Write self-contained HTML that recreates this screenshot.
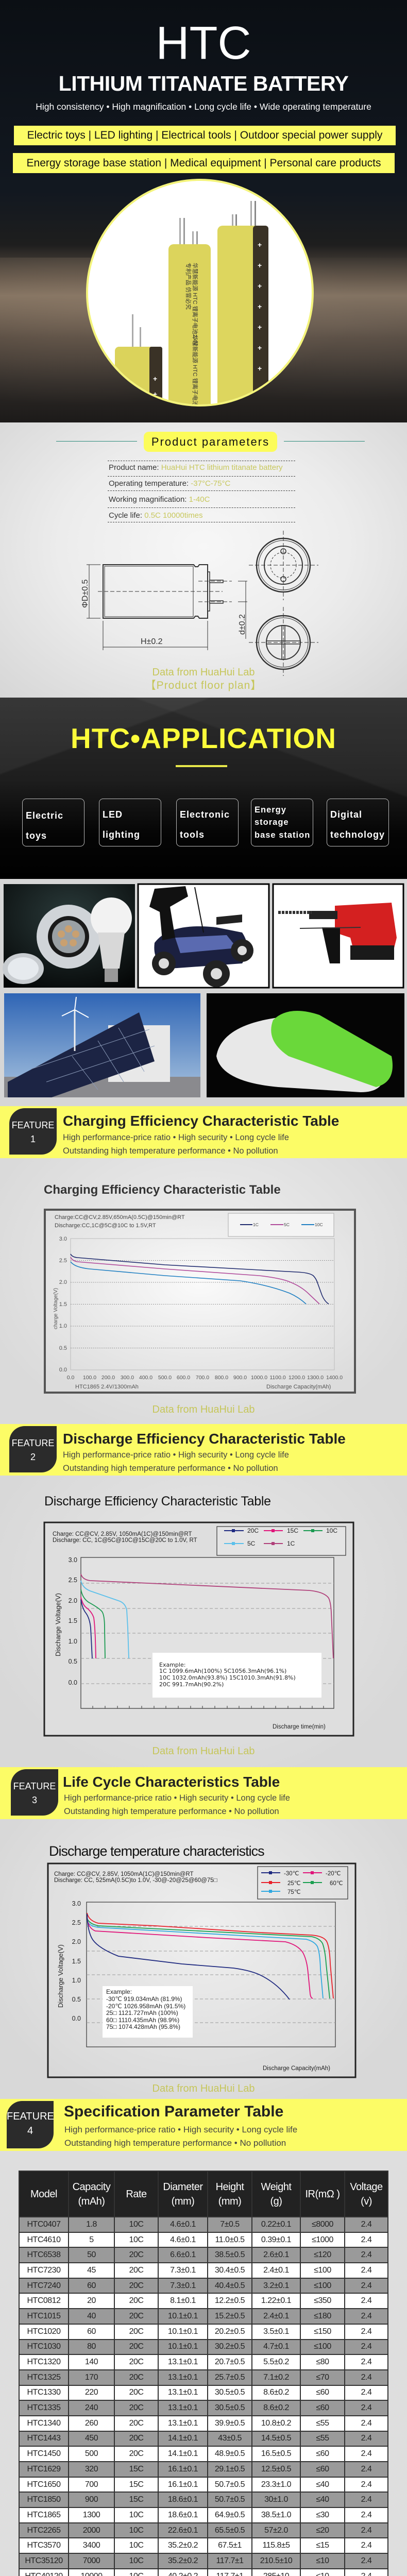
<!DOCTYPE html>
<html><head><meta charset="utf-8">
<style>
*{margin:0;padding:0;box-sizing:border-box}
html,body{width:790px;height:5084px;overflow:hidden;background:#dedede}
#pg{position:relative;width:790px;height:5084px;overflow:hidden;background:#dedede;font-family:"Liberation Sans",sans-serif}
.a{position:absolute}
.c{text-align:center}
.fbar{position:absolute;left:0;width:790px;background:#fcfc66}
.badge{position:absolute;background:#2b2b2b;color:#fff;border-radius:30px 0 30px 0;text-align:center;font-size:18px;line-height:27px;padding-top:20px}
.ft{position:absolute;left:122px;font-weight:bold;color:#222;font-size:28px;white-space:nowrap}
.fs{position:absolute;left:122px;color:#444;font-size:16.5px;white-space:nowrap}
.lab{color:#c6c65a;font-size:20px;width:790px;left:0;text-align:center;line-height:24px}
.box{position:absolute;top:1550px;height:93px;width:121px;border:1px solid #bbb;border-radius:8px;color:#fff;font-weight:bold;font-size:18px;letter-spacing:1px;overflow:hidden}
.box span{position:absolute;left:6px;white-space:nowrap}
.pr{position:absolute;left:211px;font-size:15px;color:#333;white-space:nowrap}
.pr b{font-weight:normal;color:#c8c85e}
.dl{position:absolute;left:209px;width:364px;border-top:1.5px dashed #444}
.tb{position:absolute;left:36px;top:4213px;width:718px;height:834px;background:#333;padding:0 2px 2px 2px;font-family:"Liberation Sans Narrow","Liberation Sans",sans-serif;overflow:hidden}
.r{display:flex;gap:2px;height:27.7px;margin-top:2px}
.r span{display:flex;align-items:center;justify-content:center;font-size:16px;color:#222;white-space:nowrap;letter-spacing:-0.5px;overflow:hidden}
.r span:nth-child(1){width:94px}.r span:nth-child(2){width:87px}.r span:nth-child(3){width:83px}.r span:nth-child(4){width:94px}
.r span:nth-child(5){width:84px}.r span:nth-child(6){width:92px}.r span:nth-child(7){width:84px}.r span:nth-child(8){width:82px}
.r.hd{height:87px}
.r.hd span{background:#222;color:#fff;font-size:20px;line-height:28px;text-align:center}
.r.g span{background:#9a9a9a}
.r.w span{background:#fff}
</style></head><body><div id="pg">

<!-- HERO -->
<div class="a" style="left:0;top:0;width:790px;height:820px;background:linear-gradient(180deg,#0b0f14 0%,#121820 45%,#1e1e1e 58%,#5e5246 66%,#80705f 70%,#4a4038 80%,#2e2a27 90%,#1c1a19 100%)"></div>
<div class="a" style="left:0;top:500px;width:790px;height:320px;background:radial-gradient(ellipse at 20% 30%,rgba(150,130,110,.45),rgba(0,0,0,0) 60%),radial-gradient(ellipse at 85% 40%,rgba(140,125,110,.35),rgba(0,0,0,0) 55%)"></div>
<div class="a c" style="left:0;top:38px;width:790px;font-size:90px;color:#fff;line-height:92px">HTC</div>
<div class="a c" style="left:0;top:138px;width:790px;font-size:41px;font-weight:bold;color:#fff;line-height:48px;letter-spacing:-0.5px">LITHIUM TITANATE BATTERY</div>
<div class="a c" style="left:0;top:196px;width:790px;font-size:17.5px;color:#fff;line-height:22px">High consistency • High magnification • Long cycle life • Wide operating temperature</div>
<div class="a c" style="left:27px;top:244px;width:741px;height:38px;background:#fcfc66;font-size:21px;line-height:38px;color:#111">Electric toys | LED lighting | Electrical tools | Outdoor special power supply</div>
<div class="a c" style="left:25px;top:297px;width:741px;height:39px;background:#fcfc66;font-size:21px;line-height:39px;color:#111">Energy storage base station | Medical equipment | Personal care products</div>
<svg class="a" style="left:0;top:340px" width="790" height="480" viewBox="0 340 790 480">
<defs><clipPath id="cc"><circle cx="388" cy="568" r="217"/></clipPath></defs>
<circle cx="388" cy="568" r="219" fill="#fff" stroke="#f3f37a" stroke-width="4"/>
<g clip-path="url(#cc)">
<rect x="486" y="390" width="3" height="60" fill="#aaa"/><rect x="494" y="390" width="3" height="60" fill="#888"/>
<rect x="450" y="416" width="3" height="30" fill="#aaa"/><rect x="457" y="416" width="3" height="30" fill="#888"/>
<rect x="422" y="438" width="99" height="400" rx="10" fill="#ddd65e"/><rect x="491" y="438" width="30" height="400" rx="6" fill="#3a3226"/>
<rect x="348" y="423" width="3" height="60" fill="#aaa"/><rect x="356" y="423" width="3" height="60" fill="#999"/>
<rect x="373" y="449" width="3" height="30" fill="#aaa"/><rect x="381" y="449" width="3" height="30" fill="#999"/>
<rect x="327" y="474" width="82" height="360" rx="10" fill="#dcd45c"/>
<rect x="256" y="610" width="3" height="70" fill="#aaa"/><rect x="271" y="635" width="3" height="45" fill="#aaa"/>
<rect x="223" y="673" width="92" height="160" rx="8" fill="#dbd35b"/><rect x="290" y="673" width="25" height="160" rx="4" fill="#3a3226"/>
<g fill="#fff" font-size="14" font-weight="bold"><text x="500" y="480">+</text><text x="500" y="520">+</text><text x="500" y="560">+</text><text x="500" y="600">+</text><text x="500" y="640">+</text><text x="500" y="680">+</text><text x="500" y="720">+</text><text x="297" y="740">+</text><text x="297" y="770">+</text></g>
<g fill="#333" font-size="11"><text x="375" y="510" transform="rotate(90 375 510)">华慧新能源 HTC 锂离子电池2.4V</text><text x="362" y="510" transform="rotate(90 362 510)">专利产品 仿冒必究</text><text x="375" y="650" transform="rotate(90 375 650)">华慧新能源 HTC 锂离子电池2.4V</text></g>
</g></svg>

<!-- PRODUCT PARAMETERS -->
<div class="a" style="left:0;top:820px;width:790px;height:534px;background:radial-gradient(ellipse at 50% 45%,#f7f7f7 0%,#ececec 50%,#d6d6d6 100%)"></div>
<div class="a" style="left:109px;top:856px;width:157px;height:1px;background:#2a8a7a"></div>
<div class="a" style="left:551px;top:856px;width:157px;height:1px;background:#2a8a7a"></div>
<div class="a c" style="left:279px;top:838px;width:259px;height:39px;background:#fcfc5a;border-radius:10px;font-size:22px;line-height:39px;letter-spacing:2px;color:#111">Product parameters</div>
<div class="dl" style="top:894px"></div><div class="dl" style="top:924px"></div><div class="dl" style="top:952px"></div><div class="dl" style="top:985px"></div><div class="dl" style="top:1013px"></div>
<div class="pr" style="top:899px">Product name: <b>HuaHui HTC lithium titanate battery</b></div>
<div class="pr" style="top:930px">Operating temperature: <b>-37°C-75°C</b></div>
<div class="pr" style="top:961px">Working magnification: <b>1-40C</b></div>
<div class="pr" style="top:992px">Cycle life: <b>0.5C 10000times</b></div>
<svg class="a" style="left:0;top:1020px" width="790" height="300" viewBox="0 1020 790 300" fill="none" stroke="#333">
<path d="M200 1096 H376 L379 1100 H384 L387 1096 H403 V1200 H387 L384 1196 H379 L376 1200 H200 Z" stroke-width="2"/>
<rect x="203" y="1099" width="172" height="98" stroke-width="1"/>
<rect x="403" y="1110" width="4" height="76" stroke-width="1.5"/>
<rect x="407" y="1126" width="26" height="5" stroke-width="1.5"/><rect x="407" y="1166" width="26" height="5" stroke-width="1.5"/>
<path d="M190 1148 H432 M385 1128 H450 M385 1168 H450" stroke-dasharray="8 4" stroke-width="1"/>
<path d="M168 1096 H195 M168 1200 H195 M173 1096 V1200 M462 1128 H480 M462 1168 H480 M477 1128 V1240 M200 1205 V1262 M403 1205 V1262 M200 1256 H403" stroke-width="1"/>
<circle cx="550" cy="1097" r="52" stroke-width="2.5"/><circle cx="550" cy="1097" r="48" stroke-width="1"/>
<circle cx="550" cy="1097" r="37" stroke-width="2"/><circle cx="550" cy="1097" r="25" stroke-dasharray="4 3"/>
<circle cx="550" cy="1070" r="5" stroke-width="1.5"/><circle cx="550" cy="1124" r="5" stroke-width="1.5"/>
<path d="M483 1097 H618 M550 1030 V1165 M483 1247 H618 M550 1178 V1312" stroke-dasharray="8 4" stroke-width="1"/>
<circle cx="550" cy="1247" r="52" stroke-width="2.5"/><circle cx="550" cy="1247" r="48" stroke-width="1"/><circle cx="550" cy="1247" r="33" stroke-width="2"/>
<path d="M518 1244 H582 M518 1250 H582 M547 1215 V1279 M553 1215 V1279" stroke-width="1.5"/>
<g fill="#333" stroke="none" font-size="16"><text x="273" y="1250">H±0.2</text><text x="170" y="1180" transform="rotate(-90 170 1180)">ΦD±0.5</text><text x="475" y="1232" transform="rotate(-90 475 1232)">d±0.2</text></g>
</svg>
<div class="a lab" style="top:1293px">Data from HuaHui Lab</div>
<div class="a lab" style="top:1319px;font-size:21px;letter-spacing:1px">【Product floor plan】</div>

<!-- APPLICATION -->
<div class="a" style="left:0;top:1354px;width:790px;height:352px;background:linear-gradient(180deg,#2c2c2c 0%,#1e1e1e 45%,#050505 75%,#000 100%)"></div>
<div class="a" style="left:0;top:1354px;width:790px;height:200px;background:linear-gradient(160deg,rgba(255,255,255,.05) 30%,rgba(0,0,0,0) 31%),linear-gradient(20deg,rgba(0,0,0,0) 60%,rgba(255,255,255,.04) 61%)"></div>
<div class="a c" style="left:0;top:1398px;width:790px;font-size:55px;font-weight:bold;color:#fcfc3a;line-height:70px;letter-spacing:1px">HTC•APPLICATION</div>
<div class="a" style="left:341px;top:1485px;width:100px;height:4px;background:#e8e84a"></div>
<div class="box" style="left:43px"><span style="top:22px">Electric</span><span style="top:61px">toys</span></div>
<div class="box" style="left:192px"><span style="top:20px">LED</span><span style="top:59px">lighting</span></div>
<div class="box" style="left:342px"><span style="top:20px">Electronic</span><span style="top:59px">tools</span></div>
<div class="box" style="left:487px;font-size:16.5px"><span style="top:12px">Energy</span><span style="top:36px">storage</span><span style="top:61px">base station</span></div>
<div class="box" style="left:634px"><span style="top:20px">Digital</span><span style="top:59px">technology</span></div>

<!-- PHOTOS -->
<div class="a" style="left:0;top:1706px;width:790px;height:441px;background:#d6d6d6"></div>
<svg class="a" style="left:0;top:1706px" width="790" height="441" viewBox="0 1706 790 441">
<defs><radialGradient id="led" cx="50%" cy="30%" r="80%"><stop offset="0" stop-color="#2a3a3a"/><stop offset="1" stop-color="#050707"/></radialGradient>
<linearGradient id="sky" x1="0" y1="0" x2="0" y2="1"><stop offset="0" stop-color="#2f65b5"/><stop offset="1" stop-color="#a9c4df"/></linearGradient></defs>
<rect x="7" y="1716" width="255" height="201" fill="url(#led)"/>
<ellipse cx="45" cy="1880" rx="40" ry="30" fill="#c8ccd0"/><ellipse cx="45" cy="1880" rx="30" ry="22" fill="#e6eaee"/>
<circle cx="133" cy="1818" r="62" fill="#d0d4d8"/><circle cx="133" cy="1818" r="40" fill="#1a1a1a"/><circle cx="133" cy="1818" r="32" fill="#9aa0a4"/>
<g fill="#c9a070"><circle cx="133" cy="1803" r="7"/><circle cx="147" cy="1813" r="7"/><circle cx="142" cy="1830" r="7"/><circle cx="124" cy="1830" r="7"/><circle cx="119" cy="1813" r="7"/></g>
<circle cx="216" cy="1782" r="40" fill="#f2f2f2"/><path d="M190 1810 L242 1810 L232 1880 L200 1880 Z" fill="#d8d8d8"/><rect x="203" y="1880" width="26" height="26" fill="#999"/>
<rect x="268" y="1716" width="254" height="201" fill="#fff" stroke="#000" stroke-width="3"/>
<path d="M300 1830 Q330 1790 420 1800 L470 1810 Q490 1840 470 1870 L330 1880 Q295 1870 300 1830Z" fill="#1b2040"/><path d="M340 1820 L440 1815 L460 1840 L350 1850Z" fill="#5a6ab0"/>
<path d="M420 1780 L470 1775 L470 1790 L420 1795Z" fill="#222"/>
<circle cx="318" cy="1870" r="23" fill="#222"/><circle cx="318" cy="1870" r="10" fill="#ddd"/><circle cx="420" cy="1890" r="26" fill="#222"/><circle cx="420" cy="1890" r="11" fill="#ddd"/><circle cx="470" cy="1845" r="22" fill="#222"/><circle cx="470" cy="1845" r="9" fill="#ddd"/>
<path d="M300 1725 L360 1720 L365 1740 L330 1760 L340 1820 L315 1825 L310 1770 L290 1760Z" fill="#111"/><line x1="378" y1="1722" x2="395" y2="1810" stroke="#111" stroke-width="2"/>
<rect x="530" y="1716" width="253" height="201" fill="#fff" stroke="#000" stroke-width="3"/>
<path d="M650 1758 L760 1752 L770 1820 L760 1860 L690 1860 L680 1820 L650 1810Z" fill="#d42020"/>
<rect x="680" y="1835" width="85" height="28" fill="#1a1a1a"/><rect x="600" y="1768" width="55" height="16" fill="#222"/><path d="M540 1771 H605" stroke="#333" stroke-width="6" stroke-dasharray="5 2"/>
<path d="M625 1800 H660 V1870 H640Z" fill="#111"/><line x1="582" y1="1802" x2="700" y2="1800" stroke="#333" stroke-width="2"/>
<rect x="8" y="1928" width="381" height="202" fill="url(#sky)"/><rect x="8" y="2090" width="381" height="40" fill="#8a8a8e"/>
<rect x="210" y="1990" width="120" height="110" fill="#e8e8e8"/>
<path d="M15 2100 L270 1965 L300 2060 L100 2130 L15 2130Z" fill="#1c2444"/>
<g stroke="#8a9ab8" stroke-width="1"><path d="M60 2075 L290 1998 M90 2100 L300 2030 M140 2050 L190 2115 M190 2020 L240 2100 M230 1995 L280 2080"/></g>
<line x1="145" y1="1960" x2="145" y2="2040" stroke="#eee" stroke-width="3"/><path d="M145 1960 L148 1935 M145 1960 L120 1972 M145 1960 L172 1975" stroke="#fff" stroke-width="2"/>
<rect x="401" y="1928" width="384" height="202" fill="#050505"/>
<path d="M420 2050 Q430 1990 540 1975 L740 2060 Q760 2120 700 2120 L540 2110 Q430 2100 420 2050Z" fill="#e8e8e8"/>
<path d="M530 1980 Q560 1950 620 1970 L760 2050 Q770 2100 730 2110 L560 2050 Q515 2020 530 1980Z" fill="#6ad83a"/>
</svg>

<!-- FEATURE 1 -->
<div class="a" style="left:0;top:2248px;width:790px;height:516px;background:radial-gradient(ellipse at 50% 40%,#f0f0f0,#dadada 80%)"></div>
<div class="fbar" style="top:2147px;height:101px"></div>
<div class="badge" style="left:18px;top:2151px;width:92px;height:90px">FEATURE<br>1</div>
<div class="ft" style="top:2160px">Charging Efficiency Characteristic Table</div>
<div class="fs" style="top:2199px">High performance-price ratio • High security • Long cycle life</div>
<div class="fs" style="top:2225px">Outstanding high temperature performance • No pollution</div>
<div class="a" style="left:85px;top:2296px;font-size:24px;font-weight:bold;color:#333">Charging Efficiency Characteristic Table</div>
<svg class="a" style="left:0;top:2340px" width="790" height="370" viewBox="0 2340 790 370" font-family="Liberation Sans Narrow,Liberation Sans,sans-serif">
<defs><radialGradient id="pg2" cx="50%" cy="40%" r="70%"><stop offset="0" stop-color="#fafafa"/><stop offset="1" stop-color="#dcdcdc"/></radialGradient></defs>
<rect x="87" y="2348" width="602" height="355" fill="url(#pg2)" stroke="#555" stroke-width="4"/>
<rect x="137" y="2404" width="512" height="255" fill="none" stroke="#bbb"/>
<g stroke="#777" stroke-dasharray="2 2" stroke-width="0.8"><path d="M137 2446.5 H649 M137 2489 H649 M137 2531.5 H649 M137 2574 H649 M137 2616.5 H649"/></g>
<rect x="443" y="2355" width="205" height="45" fill="#f4f4f4" stroke="#aaa"/>
<g stroke-width="2"><line x1="466" y1="2377" x2="490" y2="2377" stroke="#1f2a6e"/><line x1="525" y1="2377" x2="550" y2="2377" stroke="#b04a9a"/><line x1="585" y1="2377" x2="610" y2="2377" stroke="#1f7fc2"/></g>
<g font-size="8.5" fill="#444"><text x="491" y="2380">1C</text><text x="551" y="2380">5C</text><text x="611" y="2380">10C</text></g>
<g font-size="11" fill="#444"><text x="106" y="2366">Charge:CC@CV,2.85V,650mA(0.5C)@150min@RT</text><text x="106" y="2382">Discharge:CC,1C@5C@10C to 1.5V,RT</text></g>
<g font-size="11" fill="#555" text-anchor="end"><text x="130" y="2408">3.0</text><text x="130" y="2450">2.5</text><text x="130" y="2492">2.0</text><text x="130" y="2535">1.5</text><text x="130" y="2577">1.0</text><text x="130" y="2620">0.5</text><text x="130" y="2662">0.0</text></g>
<g font-size="10.5" fill="#555" text-anchor="middle"><text x="137" y="2677">0.0</text><text x="174" y="2677">100.0</text><text x="210" y="2677">200.0</text><text x="247" y="2677">300.0</text><text x="283" y="2677">400.0</text><text x="320" y="2677">500.0</text><text x="356" y="2677">600.0</text><text x="393" y="2677">700.0</text><text x="430" y="2677">800.0</text><text x="466" y="2677">900.0</text><text x="503" y="2677">1000.0</text><text x="539" y="2677">1100.0</text><text x="576" y="2677">1200.0</text><text x="612" y="2677">1300.0</text><text x="649" y="2677">1400.0</text></g>
<g font-size="11" fill="#555"><text x="146" y="2695">HTC1865  2.4V/1300mAh</text><text x="517" y="2695">Discharge Capacity(mAh)</text><text x="111" y="2580" transform="rotate(-90 111 2580)" font-size="10">charge Voltage(V)</text></g>
<g fill="none" stroke-width="1.6">
<path d="M137 2434 Q140 2440 150 2441 L174 2443 L320 2455 L503 2465 L576 2469 Q600 2470 608 2476 Q614 2482 617 2492 L625 2514 Q630 2526 638 2531" stroke="#1f2a6e"/>
<path d="M137 2440 Q140 2447 150 2449 L320 2463 L503 2476 Q545 2481 562 2488 Q585 2497 600 2512 L620 2531" stroke="#b04a9a"/>
<path d="M137 2449 Q145 2460 174 2463 L320 2476 L466 2486 Q520 2494 562 2510 Q580 2518 594 2531" stroke="#1f7fc2"/>
</g></svg>
<div class="a lab" style="top:2724px">Data from HuaHui Lab</div>

<!-- FEATURE 2 -->
<div class="a" style="left:0;top:2864px;width:790px;height:566px;background:radial-gradient(ellipse at 50% 40%,#e8e8e8,#d8d8d8 80%)"></div>
<div class="fbar" style="top:2764px;height:100px"></div>
<div class="badge" style="left:18px;top:2768px;width:92px;height:90px">FEATURE<br>2</div>
<div class="ft" style="top:2777px">Discharge Efficiency Characteristic Table</div>
<div class="fs" style="top:2815px">High performance-price ratio • High security • Long cycle life</div>
<div class="fs" style="top:2841px">Outstanding high temperature performance • No pollution</div>
<div class="a" style="left:86px;top:2900px;font-size:25px;color:#111;letter-spacing:-0.3px">Discharge Efficiency Characteristic Table</div>
<svg class="a" style="left:0;top:2950px" width="790" height="425" viewBox="0 2950 790 425">
<rect x="86" y="2955" width="600" height="414" fill="#dedede" stroke="#222" stroke-width="3"/>
<rect x="157" y="3023" width="491" height="293" fill="#e2e2e2" stroke="#333" stroke-width="1.2"/>
<g stroke="#999" stroke-dasharray="6 4" stroke-width="1"><path d="M157 3073 H648 M157 3122 H648 M157 3170 H648 M157 3219 H648 M157 3268 H648"/></g>
<g stroke="#333"><path d="M180 3316 v-5 M204 3316 v-5 M228 3316 v-5 M251 3316 v-5 M275 3316 v-5 M299 3316 v-5 M322 3316 v-5 M346 3316 v-5 M370 3316 v-5 M393 3316 v-5 M417 3316 v-5 M441 3316 v-5 M464 3316 v-5 M488 3316 v-5 M512 3316 v-5 M535 3316 v-5 M559 3316 v-5 M583 3316 v-5 M606 3316 v-5 M628 3316 v-5"/></g>
<rect x="421" y="2963" width="250" height="56" fill="#e4e4e4" stroke="#333" stroke-width="1.2"/>
<g stroke-width="2"><line x1="435" y1="2971" x2="473" y2="2971" stroke="#1f2a80"/><line x1="512" y1="2971" x2="549" y2="2971" stroke="#e0157a"/><line x1="589" y1="2971" x2="626" y2="2971" stroke="#1a9a50"/><line x1="435" y1="2996" x2="473" y2="2996" stroke="#5bc0eb"/><line x1="512" y1="2996" x2="549" y2="2996" stroke="#b0407a"/></g>
<g><rect x="450" y="2968" width="6" height="6" fill="#1f2a80"/><rect x="527" y="2968" width="6" height="6" fill="#e0157a"/><rect x="604" y="2968" width="6" height="6" fill="#1a9a50"/><rect x="450" y="2993" width="6" height="6" fill="#5bc0eb"/><rect x="527" y="2993" width="6" height="6" fill="#b0407a"/></g>
<g font-size="12" fill="#222"><text x="480" y="2975">20C</text><text x="557" y="2975">15C</text><text x="633" y="2975">10C</text><text x="480" y="3000">5C</text><text x="557" y="3000">1C</text></g>
<g font-size="11.5" fill="#222"><text x="102" y="2981">Charge: CC@CV, 2.85V, 1050mA(1C)@150min@RT</text><text x="102" y="2993">Discharge: CC, 1C@5C@10C@15C@20C to 1.0V, RT</text></g>
<g font-size="12.5" fill="#222" text-anchor="end"><text x="150" y="3032">3.0</text><text x="150" y="3071">2.5</text><text x="150" y="3111">2.0</text><text x="150" y="3150">1.5</text><text x="150" y="3190">1.0</text><text x="150" y="3229">0.5</text><text x="150" y="3270">0.0</text></g>
<text x="117" y="3215" transform="rotate(-90 117 3215)" font-size="13" fill="#222">Discharge Voltage(V)</text>
<text x="529" y="3355" font-size="11.5" fill="#222">Discharge time(min)</text>
<g fill="none" stroke-width="1.8">
<path d="M157 3055 Q160 3066 175 3068 L600 3087 Q630 3090 638 3102 Q642 3110 643 3130 L647 3219" stroke="#b0407a"/>
<path d="M157 3068 Q160 3082 175 3088 L230 3107 Q243 3111 246 3125 L248 3160 L250 3219" stroke="#5bc0eb"/>
<path d="M157 3085 Q160 3102 172 3110 Q192 3121 198 3128 Q203 3135 203 3160 L204 3219" stroke="#1a9a50"/>
<path d="M157 3100 Q160 3114 167 3120 Q178 3128 182 3140 Q185 3160 186 3219" stroke="#e0157a"/>
<path d="M157 3105 Q160 3122 166 3130 Q174 3140 176 3160 L179 3219" stroke="#1f2a80"/>
</g>
<rect x="296" y="3208" width="328" height="87" fill="#fff"/>
<g fill="#222" font-family="DejaVu Sans,sans-serif" font-size="11"><text x="309" y="3235">Example:</text><text x="309" y="3247">1C 1099.6mAh(100%)  5C1056.3mAh(96.1%)</text><text x="309" y="3260">10C 1032.0mAh(93.8%) 15C1010.3mAh(91.8%)</text><text x="309" y="3273">20C 991.7mAh(90.2%)</text></g>
</svg>
<div class="a lab" style="top:3387px">Data from HuaHui Lab</div>

<!-- FEATURE 3 -->
<div class="a" style="left:0;top:3531px;width:790px;height:543px;background:radial-gradient(ellipse at 50% 40%,#efefef,#d8d8d8 80%)"></div>
<div class="fbar" style="top:3430px;height:101px"></div>
<div class="badge" style="left:21px;top:3434px;width:92px;height:90px">FEATURE<br>3</div>
<div class="ft" style="top:3443px">Life Cycle Characteristics Table</div>
<div class="fs" style="top:3481px;left:124px">High performance-price ratio • High security • Long cycle life</div>
<div class="fs" style="top:3507px;left:124px">Outstanding high temperature performance • No pollution</div>
<div class="a" style="left:95px;top:3578px;font-size:27px;color:#111;letter-spacing:-1px">Discharge temperature characteristics</div>
<svg class="a" style="left:0;top:3610px" width="790" height="430" viewBox="0 3610 790 430">
<rect x="93" y="3617" width="597" height="415" fill="none" stroke="#222" stroke-width="3"/>
<rect x="168" y="3692" width="483" height="281" fill="none" stroke="#333" stroke-width="1.2"/>
<g stroke="#999" stroke-dasharray="6 4" stroke-width="1"><path d="M168 3739 H651 M168 3787 H651 M168 3833 H651 M168 3880 H651 M168 3926 H651"/></g>
<rect x="500" y="3623" width="175" height="63" fill="none" stroke="#333" stroke-width="1.2"/>
<g stroke-width="2"><line x1="507" y1="3635" x2="544" y2="3635" stroke="#1f2a80"/><line x1="588" y1="3635" x2="625" y2="3635" stroke="#e0157a"/><line x1="507" y1="3654" x2="544" y2="3654" stroke="#e8202a"/><line x1="588" y1="3654" x2="625" y2="3654" stroke="#18a050"/><line x1="507" y1="3671" x2="544" y2="3671" stroke="#30a8e0"/></g>
<g><rect x="522" y="3632" width="6" height="6" fill="#1f2a80"/><rect x="603" y="3632" width="6" height="6" fill="#e0157a"/><rect x="522" y="3651" width="6" height="6" fill="#e8202a"/><rect x="603" y="3651" width="6" height="6" fill="#18a050"/><rect x="522" y="3668" width="6" height="6" fill="#30a8e0"/></g>
<g font-size="11.5" fill="#222"><text x="551" y="3640">-30℃</text><text x="632" y="3640">-20℃</text><text x="558" y="3659">25℃</text><text x="640" y="3659">60℃</text><text x="558" y="3676">75℃</text></g>
<g font-size="11.5" fill="#222"><text x="105" y="3641">Charge: CC@CV, 2.85V, 1050mA(1C)@150min@RT</text><text x="105" y="3653">Discharge: CC, 525mA(0.5C)to 1.0V, -30@-20@25@60@75□</text></g>
<g font-size="12.5" fill="#222" text-anchor="end"><text x="157" y="3699">3.0</text><text x="157" y="3736">2.5</text><text x="157" y="3773">2.0</text><text x="157" y="3811">1.5</text><text x="157" y="3848">1.0</text><text x="157" y="3885">0.5</text><text x="157" y="3922">0.0</text></g>
<text x="122" y="3897" transform="rotate(-90 122 3897)" font-size="13" fill="#222">Discharge Voltage(V)</text>
<g fill="none" stroke-width="1.8">
<path d="M169 3713 Q172 3728 191 3733 L302 3738 L504 3751 L605 3756 Q628 3758 634 3768 Q640 3780 641 3812 L647 3879" stroke="#e8202a"/>
<path d="M169 3723 Q172 3734 191 3738 L504 3754 L605 3759 Q620 3762 626 3772 Q631 3785 633 3812 L640 3879" stroke="#18a050"/>
<path d="M169 3728 Q172 3738 191 3741 L504 3759 L594 3764 Q610 3768 616 3778 Q621 3790 622 3822 L627 3879" stroke="#30a8e0"/>
<path d="M169 3720 Q170 3742 185 3748 L403 3761 L554 3769 Q578 3775 588 3790 Q596 3805 598 3830 L602 3870 Q603 3878 607 3879" stroke="#e0157a"/>
<path d="M169 3715 Q170 3750 180 3765 Q192 3782 230 3797 L353 3812 L453 3820 Q490 3825 510 3836 Q540 3852 562 3881" stroke="#1f2a80"/>
</g>
<rect x="199" y="3855" width="175" height="100" fill="#fff"/>
<g font-size="12" fill="#222"><text x="206" y="3870">Example:</text><text x="206" y="3884">-30℃  919.034mAh  (81.9%)</text><text x="206" y="3898">-20℃  1026.958mAh  (91.5%)</text><text x="206" y="3911">25□  1121.727mAh  (100%)</text><text x="206" y="3925">60□  1110.435mAh  (98.9%)</text><text x="206" y="3938">75□  1074.428mAh  (95.8%)</text></g>
<text x="510" y="4018" font-size="11.5" fill="#222" font-family="Liberation Sans Narrow,Liberation Sans,sans-serif">Discharge Capacity(mAh)</text>
</svg>
<div class="a lab" style="top:4042px">Data from HuaHui Lab</div>

<!-- FEATURE 4 -->
<div class="fbar" style="top:4074px;height:101px"></div>
<div class="badge" style="left:13px;top:4078px;width:91px;height:92px;font-family:'Liberation Sans Narrow','Liberation Sans',sans-serif;font-size:20px;padding-top:16px;line-height:28px">FEATURE<br>4</div>
<div class="ft" style="top:4082px;left:124px;font-size:30px;font-family:'Liberation Sans Narrow','Liberation Sans',sans-serif">Specification Parameter Table</div>
<div class="fs" style="top:4124px;left:125px;font-size:17px;font-family:'Liberation Sans Narrow','Liberation Sans',sans-serif">High performance-price ratio • High security • Long cycle life</div>
<div class="fs" style="top:4150px;left:125px;font-size:17px;font-family:'Liberation Sans Narrow','Liberation Sans',sans-serif">Outstanding high temperature performance • No pollution</div>
<div class="tb">
<div class="r hd"><span>Model</span><span>Capacity<br>(mAh)</span><span>Rate</span><span>Diameter<br>(mm)</span><span>Height<br>(mm)</span><span>Weight<br>(g)</span><span>IR(mΩ )</span><span>Voltage<br>(v)</span></div>
<div class="r g"><span>HTC0407</span><span>1.8</span><span>10C</span><span>4.6±0.1</span><span>7±0.5</span><span>0.22±0.1</span><span>≤8000</span><span>2.4</span></div>
<div class="r w"><span>HTC4610</span><span>5</span><span>10C</span><span>4.6±0.1</span><span>11.0±0.5</span><span>0.39±0.1</span><span>≤1000</span><span>2.4</span></div>
<div class="r g"><span>HTC6538</span><span>50</span><span>20C</span><span>6.6±0.1</span><span>38.5±0.5</span><span>2.6±0.1</span><span>≤120</span><span>2.4</span></div>
<div class="r w"><span>HTC7230</span><span>45</span><span>20C</span><span>7.3±0.1</span><span>30.4±0.5</span><span>2.4±0.1</span><span>≤100</span><span>2.4</span></div>
<div class="r g"><span>HTC7240</span><span>60</span><span>20C</span><span>7.3±0.1</span><span>40.4±0.5</span><span>3.2±0.1</span><span>≤100</span><span>2.4</span></div>
<div class="r w"><span>HTC0812</span><span>20</span><span>20C</span><span>8.1±0.1</span><span>12.2±0.5</span><span>1.22±0.1</span><span>≤350</span><span>2.4</span></div>
<div class="r g"><span>HTC1015</span><span>40</span><span>20C</span><span>10.1±0.1</span><span>15.2±0.5</span><span>2.4±0.1</span><span>≤180</span><span>2.4</span></div>
<div class="r w"><span>HTC1020</span><span>60</span><span>20C</span><span>10.1±0.1</span><span>20.2±0.5</span><span>3.5±0.1</span><span>≤150</span><span>2.4</span></div>
<div class="r g"><span>HTC1030</span><span>80</span><span>20C</span><span>10.1±0.1</span><span>30.2±0.5</span><span>4.7±0.1</span><span>≤100</span><span>2.4</span></div>
<div class="r w"><span>HTC1320</span><span>140</span><span>20C</span><span>13.1±0.1</span><span>20.7±0.5</span><span>5.5±0.2</span><span>≤80</span><span>2.4</span></div>
<div class="r g"><span>HTC1325</span><span>170</span><span>20C</span><span>13.1±0.1</span><span>25.7±0.5</span><span>7.1±0.2</span><span>≤70</span><span>2.4</span></div>
<div class="r w"><span>HTC1330</span><span>220</span><span>20C</span><span>13.1±0.1</span><span>30.5±0.5</span><span>8.6±0.2</span><span>≤60</span><span>2.4</span></div>
<div class="r g"><span>HTC1335</span><span>240</span><span>20C</span><span>13.1±0.1</span><span>30.5±0.5</span><span>8.6±0.2</span><span>≤60</span><span>2.4</span></div>
<div class="r w"><span>HTC1340</span><span>260</span><span>20C</span><span>13.1±0.1</span><span>39.9±0.5</span><span>10.8±0.2</span><span>≤55</span><span>2.4</span></div>
<div class="r g"><span>HTC1443</span><span>450</span><span>20C</span><span>14.1±0.1</span><span>43±0.5</span><span>14.5±0.5</span><span>≤55</span><span>2.4</span></div>
<div class="r w"><span>HTC1450</span><span>500</span><span>20C</span><span>14.1±0.1</span><span>48.9±0.5</span><span>16.5±0.5</span><span>≤60</span><span>2.4</span></div>
<div class="r g"><span>HTC1629</span><span>320</span><span>15C</span><span>16.1±0.1</span><span>29.1±0.5</span><span>12.5±0.5</span><span>≤60</span><span>2.4</span></div>
<div class="r w"><span>HTC1650</span><span>700</span><span>15C</span><span>16.1±0.1</span><span>50.7±0.5</span><span>23.3±1.0</span><span>≤40</span><span>2.4</span></div>
<div class="r g"><span>HTC1850</span><span>900</span><span>15C</span><span>18.6±0.1</span><span>50.7±0.5</span><span>30±1.0</span><span>≤40</span><span>2.4</span></div>
<div class="r w"><span>HTC1865</span><span>1300</span><span>10C</span><span>18.6±0.1</span><span>64.9±0.5</span><span>38.5±1.0</span><span>≤30</span><span>2.4</span></div>
<div class="r g"><span>HTC2265</span><span>2000</span><span>10C</span><span>22.6±0.1</span><span>65.5±0.5</span><span>57±2.0</span><span>≤20</span><span>2.4</span></div>
<div class="r w"><span>HTC3570</span><span>3400</span><span>10C</span><span>35.2±0.2</span><span>67.5±1</span><span>115.8±5</span><span>≤15</span><span>2.4</span></div>
<div class="r g"><span>HTC35120</span><span>7000</span><span>10C</span><span>35.2±0.2</span><span>117.7±1</span><span>210.5±10</span><span>≤10</span><span>2.4</span></div>
<div class="r w"><span>HTC40120</span><span>10000</span><span>10C</span><span>40.2±0.2</span><span>117.7±1</span><span>285±10</span><span>≤10</span><span>2.4</span></div>
<div class="r g"><span>HTC89210</span><span>60000</span><span>5C</span><span>89.2±0.2</span><span>206.5±1</span><span>2.24±0.2kg</span><span>≤6</span><span>2.4</span></div>
</div>
</div></body></html>
